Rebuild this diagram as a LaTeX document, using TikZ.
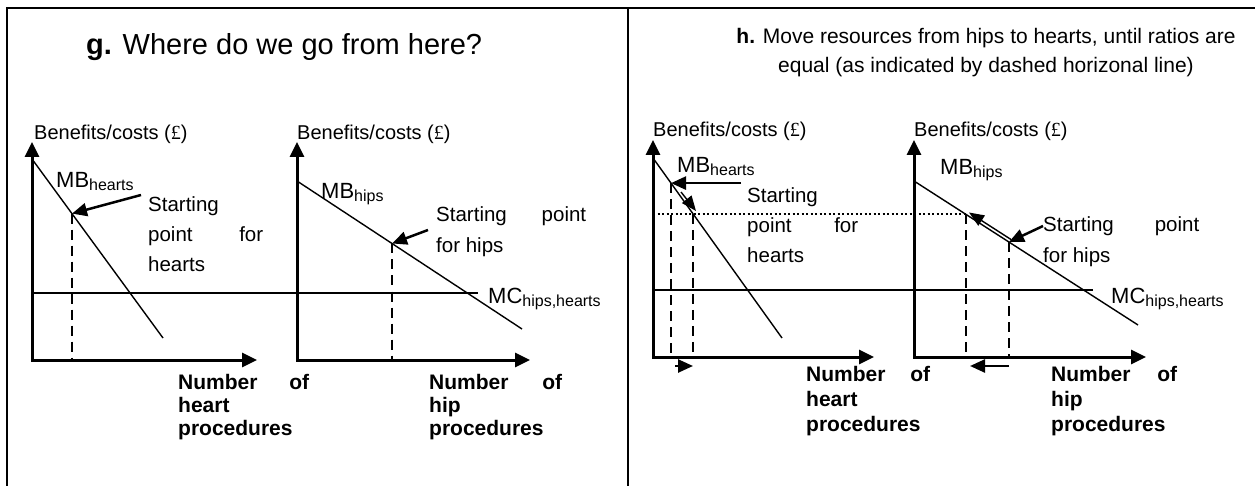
\documentclass[tikz,border=0pt]{standalone}
\usepackage{fontspec}
\setmainfont{Liberation Sans}
\newfontfamily\poundfont{Liberation Serif}
\usetikzlibrary{arrows.meta}
\newcommand{\bigsub}[2]{#1{\fontsize{16}{16}\selectfont\raisebox{-3pt}{#2}}}
\newcommand{\spreadline}[3]{\makebox[#1][s]{#2\hfill #3}}
\newcommand{\pound}{{\poundfont £}}
\tikzset{
  frameline/.style={line width=2pt},
  axisline/.style={line width=3pt,{Triangle[length=15pt,width=14pt]}-{Triangle[length=15pt,width=14pt]}},
  mbline/.style={line width=1.4pt},
  dropline/.style={line width=1.4pt,dash pattern=on 10pt off 6pt},
  dotline/.style={line width=2pt,dash pattern=on 2pt off 2.5pt},
  pointer/.style={line width=2.5pt,-{Triangle[length=15pt,width=13pt]}},
  thinpointer/.style={line width=1.4pt,-{Triangle[length=15pt,width=12pt]}},
  plain/.style={inner sep=0pt,anchor=base west,font=\fontsize{20.5}{24}\selectfont},
  curvelabel/.style={inner sep=0pt,anchor=base west,font=\fontsize{22}{26}\selectfont},
  axislabel/.style={inner sep=0pt,anchor=north west,align=left,font=\fontsize{21}{25}\selectfont\bfseries},
  ylabel/.style={inner sep=0pt,anchor=base west,font=\fontsize{20}{24}\selectfont}
}
\begin{document}
\begin{tikzpicture}[x=1pt,y=-1pt]
  \useasboundingbox (0,0) rectangle (1255,486);
  %\draw[help lines,step=50] (0,0) grid (1255,486);
  % frame
  \coordinate (f1) at (7,8);
  \coordinate (f2) at (1255,8);
  \coordinate (f3) at (7,486);
  \coordinate (f4) at (628,8);
  \coordinate (f5) at (628,486);
  \draw[frameline] (f3) -- (f1) -- (f2);
  \draw[frameline] (f4) -- (f5);

  % ---------- panel g ----------
  \node (gtitle) at (86,55) [inner sep=0pt,anchor=base west,font=\fontsize{29}{34}\selectfont] {\textbf{g.} Where do we go from here?};

  % hearts chart
  \coordinate (gA) at (32,360);
  \coordinate (gAy) at (32,142);
  \coordinate (gAx) at (257,360);
  \draw[axisline] (gAy) -- (gA) -- (gAx);
  \node (gAlab) at (34,140) [ylabel] {Benefits/costs (\pound)};
  \coordinate (gH1) at (32,159);
  \coordinate (gH2) at (163,338);
  \coordinate (gHs) at (72,213.6);
  \coordinate (gHd) at (72,360);
  \coordinate (gHt) at (141,195);
  \draw[mbline] (gH1) -- (gH2);
  \draw[dropline] (gHs) -- (gHd);
  \draw[pointer] (gHt) -- (gHs);
  \node (gHlab) at (56,188) [curvelabel] {\bigsub{MB}{hearts}};
  \node (gHs1) at (148,212) [plain] {Starting};
  \node (gHs2) at (148,242) [plain] {\spreadline{115pt}{point}{for}};
  \node (gHs3) at (148,272) [plain] {hearts};
  \node (gAnum) at (178,374) [axislabel] {\spreadline{131pt}{Number}{of}\\[-2pt]heart\\[-2pt]procedures};

  % hips chart
  \coordinate (gB) at (297,360);
  \coordinate (gBy) at (297,142);
  \coordinate (gBx) at (530,360);
  \draw[axisline] (gBy) -- (gB) -- (gBx);
  \node (gBlab) at (297,140) [ylabel] {Benefits/costs (\pound)};
  \coordinate (gP1) at (297,181);
  \coordinate (gP2) at (522,329);
  \coordinate (gPs) at (392,243.5);
  \coordinate (gPd) at (392,360);
  \coordinate (gPt) at (428,230);
  \draw[mbline] (gP1) -- (gP2);
  \draw[dropline] (gPs) -- (gPd);
  \draw[pointer] (gPt) -- (gPs);
  \node (gPlab) at (321,199) [curvelabel] {\bigsub{MB}{hips}};
  \node (gPs1) at (436,222) [plain] {\spreadline{150pt}{Starting}{point}};
  \node (gPs2) at (436,253) [plain] {for hips};
  \node (gBnum) at (429,374) [axislabel] {\spreadline{133pt}{Number}{of}\\[-2pt]hip\\[-2pt]procedures};

  % marginal cost
  \coordinate (gM1) at (32,293);
  \coordinate (gM2) at (478,293);
  \draw[mbline] (gM1) -- (gM2);
  \node (gMlab) at (488,303) [curvelabel] {\bigsub{MC}{hips,hearts}};

  % ---------- panel h ----------
  \node (htitle) at (986,28) [inner sep=0pt,anchor=north,align=center,font=\fontsize{21}{29}\selectfont] {\textbf{h.} Move resources from hips to hearts, until ratios are\\equal (as indicated by dashed horizonal line)};

  % hearts chart
  \coordinate (hA) at (653,357);
  \coordinate (hAy) at (653,140);
  \coordinate (hAx) at (874,357);
  \draw[axisline] (hAy) -- (hA) -- (hAx);
  \node (hAlab) at (653,137) [ylabel] {Benefits/costs (\pound)};
  \coordinate (hH1) at (653,158);
  \coordinate (hH2) at (782,338);
  \coordinate (hHs) at (671,183.1);
  \coordinate (hHn) at (693,213.8);
  \coordinate (hHsd) at (671,357);
  \coordinate (hHnd) at (693,357);
  \coordinate (hHt) at (741,183.1);
  \coordinate (hHm1) at (681,192);
  \coordinate (hHm2) at (696,211);
  \coordinate (hHb1) at (675,366);
  \coordinate (hHb2) at (693,366);
  \draw[mbline] (hH1) -- (hH2);
  \draw[dropline] (hHs) -- (hHsd);
  \draw[dropline] (hHn) -- (hHnd);
  \draw[pointer] (hHt) -- (hHs);
  \draw[thinpointer] (hHm1) -- (hHm2);
  \draw[pointer] (hHb1) -- (hHb2);
  \node (hHlab) at (677,173) [curvelabel] {\bigsub{MB}{hearts}};
  \node (hHs1) at (747,203) [plain] {Starting};
  \node (hHs2) at (747,233) [plain] {\spreadline{111pt}{point}{for}};
  \node (hHs3) at (747,263) [plain] {hearts};
  \node (hAnum) at (806,366) [axislabel] {\spreadline{124pt}{Number}{of}\\heart\\procedures};

  % equal ratio line
  \coordinate (hQ1) at (653,214);
  \coordinate (hQ2) at (966,214);
  \draw[dotline] (hQ1) -- (hQ2);

  % hips chart
  \coordinate (hB) at (914,357);
  \coordinate (hBy) at (914,140);
  \coordinate (hBx) at (1146,357);
  \draw[axisline] (hBy) -- (hB) -- (hBx);
  \node (hBlab) at (914,137) [ylabel] {Benefits/costs (\pound)};
  \coordinate (hP1) at (914,181);
  \coordinate (hP2) at (1138,325);
  \coordinate (hPs) at (1009,242);
  \coordinate (hPn) at (966,214.4);
  \coordinate (hPsd) at (1009,357);
  \coordinate (hPnd) at (966,357);
  \coordinate (hPt) at (1043,226);
  \coordinate (hPm1) at (1011,239.5);
  \coordinate (hPm2) at (969,212.5);
  \coordinate (hPb1) at (1009,366);
  \coordinate (hPb2) at (970,366);
  \draw[mbline] (hP1) -- (hP2);
  \draw[dropline] (hPs) -- (hPsd);
  \draw[dropline] (hPn) -- (hPnd);
  \draw[pointer] (hPt) -- (hPs);
  \draw[thinpointer] (hPm1) -- (hPm2);
  \draw[pointer] (hPb1) -- (hPb2);
  \node (hPlab) at (940,175) [curvelabel] {\bigsub{MB}{hips}};
  \node (hPs1) at (1043,232) [plain] {\spreadline{156pt}{Starting}{point}};
  \node (hPs2) at (1043,262) [plain] {for hips};
  \node (hBnum) at (1051,366) [axislabel] {\spreadline{126pt}{Number}{of}\\hip\\procedures};

  % marginal cost
  \coordinate (hM1) at (653,290);
  \coordinate (hM2) at (1093,290);
  \draw[mbline] (hM1) -- (hM2);
  \node (hMlab) at (1111,303) [curvelabel] {\bigsub{MC}{hips,hearts}};
\end{tikzpicture}
\end{document}
